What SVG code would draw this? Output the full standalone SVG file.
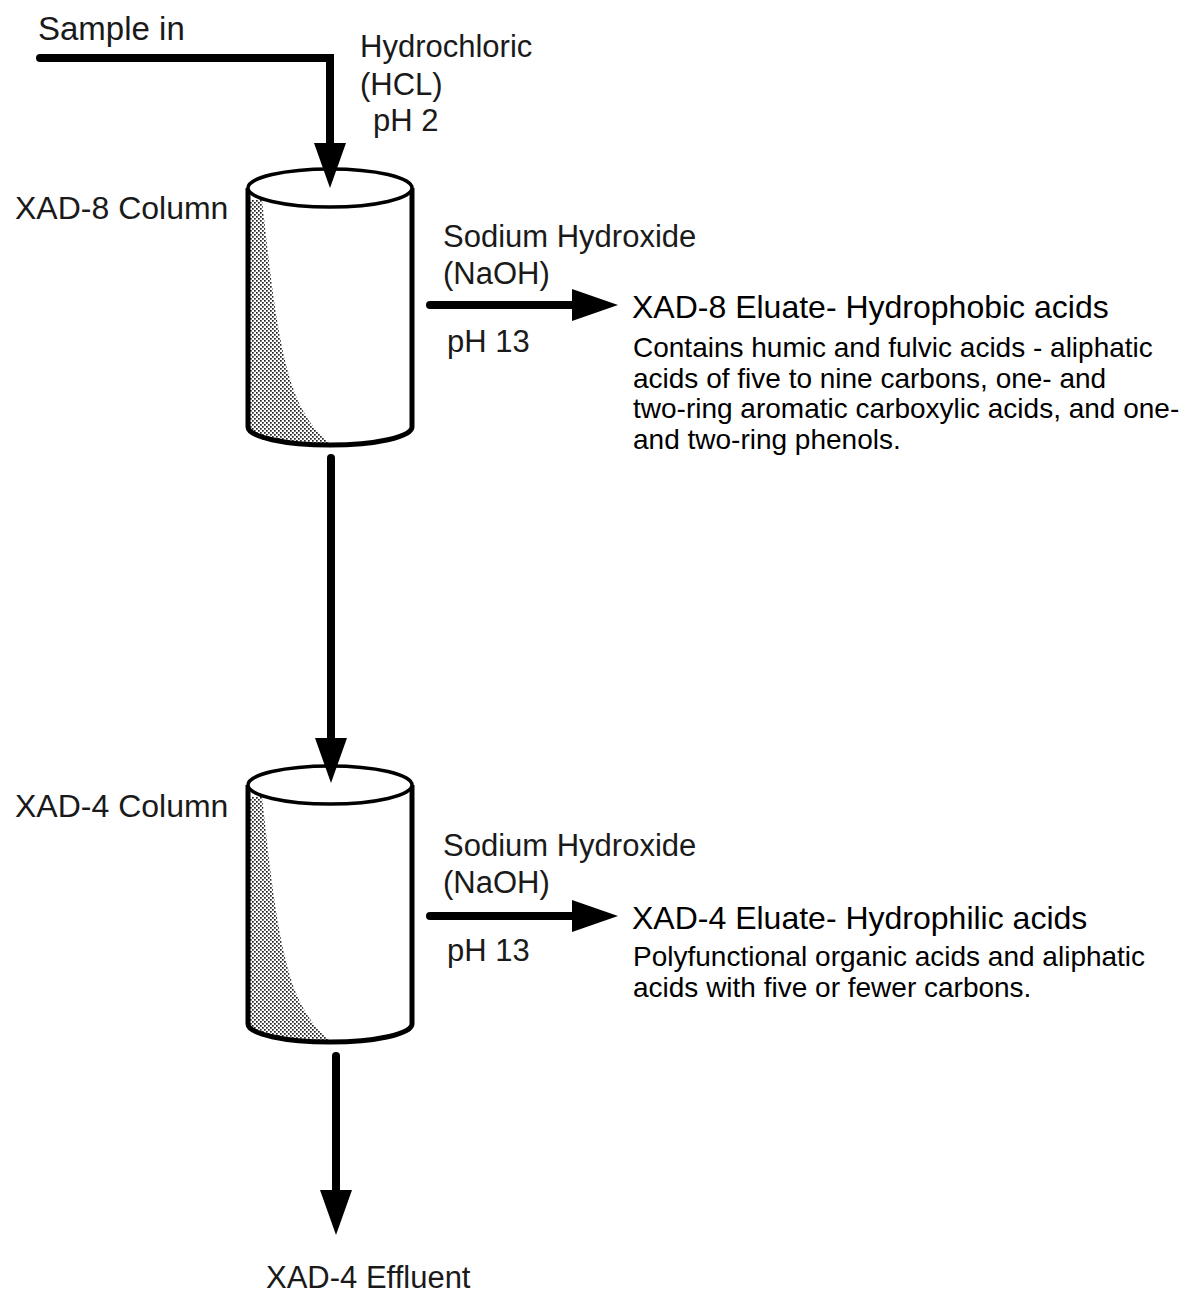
<svg xmlns="http://www.w3.org/2000/svg" width="1188" height="1293" viewBox="0 0 1188 1293">
<style>
text{font-family:"Liberation Sans",Arial,sans-serif;fill:#1a1a1a}
.lbl{font-size:31px}
.big{font-size:32px}
.hd{font-size:32px;fill:#000}
.ds{font-size:28px;fill:#000}
.ln{fill:none;stroke:#000;stroke-width:8;stroke-linecap:round;stroke-linejoin:miter}
.side{fill:none;stroke:#000;stroke-width:5}
.top{fill:#fff;stroke:#000;stroke-width:3.5}
</style>
<defs>
<pattern id="dots" width="4" height="4" patternUnits="userSpaceOnUse">
<rect width="4" height="4" fill="#fff"/>
<rect x="0" y="0" width="1.7" height="1.7" fill="#222"/>
<rect x="2" y="2" width="1.7" height="1.7" fill="#222"/>
</pattern>
<g id="cyl">
<path d="M250,200 L262,200 C270,270 278,360 300,405 C312,428 322,438 332,444 A82,18 0 0 1 250,430 Z" fill="url(#dots)"/>
<path class="side" d="M248,188 V427 A82,18 0 0 0 412,427 V188"/>
<ellipse class="top" cx="330" cy="188" rx="82" ry="19"/>
</g>
</defs>
<g id="xad8-column">
<use href="#cyl"/>
<text class="big" x="15" y="219">XAD-8 Column</text>
</g>
<g id="xad4-column">
<use href="#cyl" transform="translate(0,597)"/>
<text class="big" x="15" y="817">XAD-4 Column</text>
</g>
<g id="connectors">
<path class="ln" d="M40,58 H330 V148"/>
<polygon points="314,143 346,143 330,188"/>
<path class="ln" d="M331,458 V742"/>
<polygon points="315,738 347,738 331,783"/>
<path class="ln" d="M336,1056 V1194"/>
<polygon points="320,1190 352,1190 336,1235"/>
<path class="ln" d="M430,305 H576"/>
<polygon points="572,289 572,321 618,305"/>
<path class="ln" d="M430,916 H576"/>
<polygon points="572,900 572,932 618,916"/>
</g>
<g id="sample-in"><text x="38" y="40" style="font-size:33px">Sample in</text></g>
<g id="hcl">
<text class="lbl" x="360" y="57">Hydrochloric</text>
<text class="lbl" x="360" y="95">(HCL)</text>
<text class="lbl" x="373" y="131">pH 2</text>
</g>
<g id="naoh1">
<text class="lbl" x="443" y="247">Sodium Hydroxide</text>
<text class="lbl" x="443" y="284">(NaOH)</text>
<text class="lbl" x="447" y="352">pH 13</text>
</g>
<g id="eluate8">
<text class="hd" x="632" y="318">XAD-8 Eluate- Hydrophobic acids</text>
<text class="ds" x="633" y="357">Contains humic and fulvic acids - aliphatic</text>
<text class="ds" x="633" y="388">acids of five to nine carbons, one- and</text>
<text class="ds" x="633" y="418">two-ring aromatic carboxylic acids, and one-</text>
<text class="ds" x="633" y="449">and two-ring phenols.</text>
</g>
<g id="naoh2">
<text class="lbl" x="443" y="856">Sodium Hydroxide</text>
<text class="lbl" x="443" y="893">(NaOH)</text>
<text class="lbl" x="447" y="961">pH 13</text>
</g>
<g id="eluate4">
<text class="hd" x="632" y="929">XAD-4 Eluate- Hydrophilic acids</text>
<text class="ds" x="633" y="966">Polyfunctional organic acids and aliphatic</text>
<text class="ds" x="633" y="997">acids with five or fewer carbons.</text>
</g>
<g id="effluent"><text class="lbl" x="266" y="1288">XAD-4 Effluent</text></g>
</svg>
